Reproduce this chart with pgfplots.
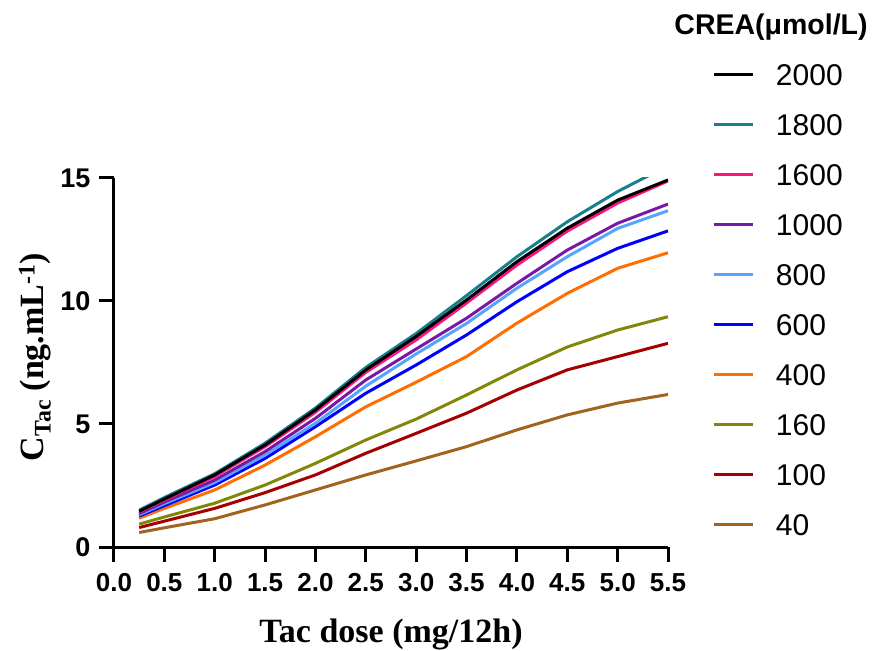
\documentclass[border=0pt]{standalone}
\usepackage{fontspec}
\setmainfont{Liberation Serif}
\setsansfont{Liberation Sans}
\usepackage{pgfplots}
\usepackage{pgfplotstable}
\pgfplotsset{compat=1.18}
\definecolor{cA}{RGB}{0,0,0}
\definecolor{cB}{RGB}{24,128,140}
\definecolor{cC}{RGB}{250,20,125}
\definecolor{cD}{RGB}{120,25,165}
\definecolor{cE}{RGB}{85,165,250}
\definecolor{cF}{RGB}{0,0,255}
\definecolor{cG}{RGB}{255,110,0}
\definecolor{cH}{RGB}{130,135,10}
\definecolor{cI}{RGB}{165,0,0}
\definecolor{cJ}{RGB}{160,100,30}
\pgfplotstableread{
x    a2000 a1800 a1600 a1000 a800  a600  a400  a160  a100  a40
0.25 1.45  1.50  1.42  1.36  1.31  1.26  1.17  0.93  0.79  0.59
0.5  1.95  2.01  1.91  1.83  1.76  1.68  1.57  1.22  1.05  0.78
1.0  2.93  2.98  2.87  2.72  2.62  2.52  2.32  1.78  1.57  1.15
1.5  4.15  4.22  4.08  3.88  3.74  3.60  3.33  2.52  2.21  1.71
2.0  5.57  5.65  5.48  5.23  5.03  4.89  4.48  3.40  2.93  2.32
2.5  7.20  7.30  7.10  6.79  6.54  6.25  5.70  4.35  3.81  2.93
3.0  8.56  8.68  8.42  8.05  7.85  7.40  6.70  5.20  4.62  3.50
3.5  10.04 10.22 9.92  9.30  9.09  8.62  7.74  6.18  5.44  4.08
4.0  11.60 11.80 11.46 10.72 10.52 9.97  9.10  7.20  6.38  4.76
4.5  12.96 13.22 12.84 12.07 11.80 11.19 10.31 8.13  7.20  5.37
5.0  14.10 14.45 13.98 13.16 12.95 12.14 11.33 8.82  7.74  5.85
5.5  14.92 15.50 14.88 13.94 13.67 12.85 11.96 9.36  8.28  6.20
}\datatable
\begin{document}
\begin{tikzpicture}
\useasboundingbox (-114bp,-104bp) rectangle (763bp,547bp);
\begin{axis}[
  at={(0,0)}, anchor=origin,
  scale only axis, width=554bp, height=369bp,
  xmin=0, xmax=5.5, ymin=0, ymax=15,
  axis x line=bottom, axis y line=left,
  axis line style={-, line width=3bp, black},
  xtick={0,0.5,1,1.5,2,2.5,3,3.5,4,4.5,5,5.5},
  ytick={0,5,10,15},
  tick align=outside, major tick length=15bp,
  tick style={line width=3bp, black},
  tick label style={font=\fontsize{26bp}{26bp}\selectfont\sffamily\bfseries, /pgf/number format/assume math mode=true},
  xticklabel style={yshift=-8bp, /pgf/number format/.cd, fixed, fixed zerofill, precision=1},
  yticklabel style={font=\fontsize{27bp}{27bp}\selectfont\sffamily\bfseries, xshift=-5bp},
  xlabel={Tac dose (mg/12h)},
  xlabel style={font=\fontsize{34bp}{34bp}\selectfont\bfseries, at={(axis description cs:0.5,-0.2575)}, anchor=base},
  ylabel={C\textsubscript{Tac} (ng.mL\textsuperscript{-1})},
  ylabel style={font=\fontsize{34bp}{34bp}\selectfont\bfseries, at={(axis description cs:-0.1426,0.515)}, anchor=center},
  legend style={at={(axis description cs:1.0812,1.3469)}, anchor=north west, draw=none, fill=none,
    inner sep=0pt, outer sep=0pt, row sep=0pt,
    font=\fontsize{30bp}{30bp}\selectfont\sffamily,
    nodes={inner sep=0pt, text height=35.75bp, text depth=14.25bp},
    /tikz/every odd column/.append style={column sep=21bp}},
  legend cell align=left,
  legend image code/.code={\draw[#1] (0bp,0bp) -- (39bp,0bp);},
  reverse legend,
  every axis plot/.append style={line width=3bp, line join=round},
]
\addplot[cJ] table[x=x, y=a40] {\datatable}; \addlegendentry{40}
\addplot[cI] table[x=x, y=a100] {\datatable}; \addlegendentry{100}
\addplot[cH] table[x=x, y=a160] {\datatable}; \addlegendentry{160}
\addplot[cG] table[x=x, y=a400] {\datatable}; \addlegendentry{400}
\addplot[cF] table[x=x, y=a600] {\datatable}; \addlegendentry{600}
\addplot[cE] table[x=x, y=a800] {\datatable}; \addlegendentry{800}
\addplot[cD] table[x=x, y=a1000] {\datatable}; \addlegendentry{1000}
\addplot[cC] table[x=x, y=a1600] {\datatable}; \addlegendentry{1600}
\addplot[cB] table[x=x, y=a1800] {\datatable}; \addlegendentry{1800}
\addplot[cA] table[x=x, y=a2000] {\datatable}; \addlegendentry{2000}
\end{axis}
\node[anchor=base, font=\fontsize{28.5bp}{28.5bp}\selectfont\sffamily\bfseries, inner sep=0pt] at (657bp,512bp) {CREA(μmol/L)};
\end{tikzpicture}
\end{document}
